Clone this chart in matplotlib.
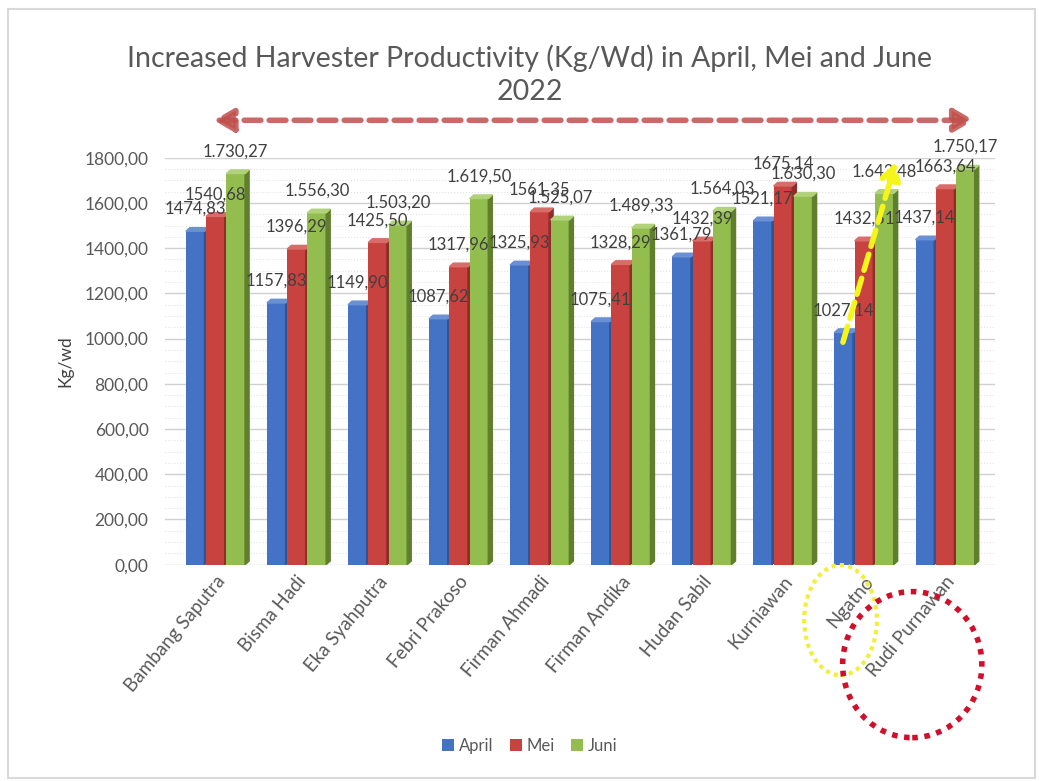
import matplotlib.pyplot as plt
import numpy as np
from matplotlib.patches import Polygon, Ellipse, FancyArrowPatch, Rectangle
from matplotlib.ticker import MultipleLocator, FuncFormatter

plt.rcParams['font.family'] = ['Lato', 'DejaVu Sans']

names = ["Bambang Saputra", "Bisma Hadi", "Eka Syahputra", "Febri Prakoso",
         "Firman Ahmadi", "Firman Andika", "Hudan Sabil", "Kurniawan",
         "Ngatno", "Rudi Purnawan"]
april = [1474.83, 1157.83, 1149.90, 1087.62, 1325.93, 1075.41, 1361.79, 1521.17, 1027.14, 1437.14]
mei = [1540.68, 1396.29, 1425.50, 1317.96, 1561.35, 1328.29, 1432.39, 1675.14, 1432.51, 1663.64]
juni = [1730.27, 1556.30, 1503.20, 1619.50, 1525.07, 1489.33, 1564.03, 1630.30, 1642.48, 1750.17]
series = ["April", "Mei", "Juni"]

colors = ["#4472c4", "#c8423f", "#93bd4f"]
sides = ["#2d5596", "#8e2c2a", "#5f7f2c"]
tops = ["#6a90d4", "#d86c69", "#b1d27a"]


def fmt_plain(v):
    return f"{v:.2f}".replace(".", ",")


def fmt_thousands(v):
    s = f"{v:,.2f}"
    return s.replace(",", "X").replace(".", ",").replace("X", ".")


fig = plt.figure(figsize=(10.39, 7.81), dpi=100)
ax = fig.add_axes([0.159, 0.277, 0.799, 0.521])

x = np.arange(len(names))
w = 0.23
dx, dy = 0.05, 16
data = [april, mei, juni]
fmts = [fmt_plain, fmt_plain, fmt_thousands]

for i, vals in enumerate(data):
    xs = x + (i - 1) * 0.25
    ax.bar(xs, vals, width=w, color=colors[i], zorder=3 + i, label=series[i])
    for xc, v in zip(xs, vals):
        r = xc + w / 2
        l = xc - w / 2
        # side and top faces for the 3D look
        ax.add_patch(Polygon([[r, 0], [r + dx, dy], [r + dx, v + dy], [r, v]],
                             closed=True, color=sides[i], zorder=3 + i))
        ax.add_patch(Polygon([[l, v], [l + dx, v + dy], [r + dx, v + dy], [r, v]],
                             closed=True, color=tops[i], zorder=3 + i))
        ax.annotate(fmts[i](v), (xc, v), xytext=(0, 16), textcoords="offset points",
                    ha="center", va="center", fontsize=12, color="#404040",
                    zorder=10, annotation_clip=False)

ax.set_xlim(-0.62, len(names) - 0.38)
ax.set_ylim(0, 1800)
ax.yaxis.set_major_locator(MultipleLocator(200))
ax.yaxis.set_minor_locator(MultipleLocator(50))
ax.yaxis.set_major_formatter(FuncFormatter(lambda v, p: fmt_plain(v)))
ax.grid(axis="y", which="major", color="#d0d0d0", linewidth=1, zorder=0)
ax.grid(axis="y", which="minor", color="#e4e4e4", linewidth=0.8, linestyle=":", zorder=0)
ax.set_axisbelow(True)
for s in ax.spines.values():
    s.set_visible(False)
ax.tick_params(axis="both", length=0, colors="#595959")
ax.tick_params(axis="y", labelsize=12.5, pad=12)
ax.tick_params(axis="x", labelsize=13.5, pad=6)
ax.tick_params(axis="y", which="minor", length=0)
ax.set_xticks(x)
ax.set_xticklabels(names, rotation=50, ha="right", rotation_mode="anchor")
ax.set_ylabel("Kg/wd", fontsize=12.5, color="#404040", labelpad=8)

fig.text(0.51, 0.904, "Increased Harvester Productivity (Kg/Wd) in April, Mei and June\n2022",
         ha="center", va="center", fontsize=20.5, color="#595959", linespacing=1.35)

# red dashed double arrow across the top
fig.add_artist(FancyArrowPatch((0.203, 0.846), (0.94, 0.846), transform=fig.transFigure,
                               arrowstyle="<|-|>,head_length=12,head_width=7",
                               color="#c0504d", linestyle=(0, (3, 1.5)), linewidth=4,
                               alpha=0.85))

# yellow dashed arrow on Ngatno, April to Juni
ng = names.index("Ngatno")
ax.annotate("", xy=(ng + 0.4, juni[ng] + 150), xytext=(ng - 0.27, april[ng] - 55),
            arrowprops=dict(arrowstyle="-|>,head_length=1.0,head_width=0.6",
                            color="#f5f51a", linewidth=4, linestyle=(0, (3, 1.5))),
            zorder=12, annotation_clip=False)

# dotted circles around the last two names
fig.add_artist(Ellipse((0.809, 0.206), 0.070, 0.141, transform=fig.transFigure,
                       fill=False, edgecolor="#f2ef3a", linewidth=3, linestyle=(0, (1, 1))))
fig.add_artist(Ellipse((0.878, 0.149), 0.134, 0.187, transform=fig.transFigure,
                       fill=False, edgecolor="#d0102a", linewidth=4, linestyle=(0, (1, 1.2))))

fig.legend(loc="center", bbox_to_anchor=(0.51, 0.045), ncol=3, frameon=False,
           fontsize=12, handlelength=0.7, handleheight=0.7, handletextpad=0.3,
           columnspacing=1.0, labelcolor="#595959")

fig.add_artist(Rectangle((0.008, 0.004), 0.988, 0.985, transform=fig.transFigure,
                         fill=False, edgecolor="#d9d9d9", linewidth=1.5))

fig.savefig("out.png", dpi=100)
